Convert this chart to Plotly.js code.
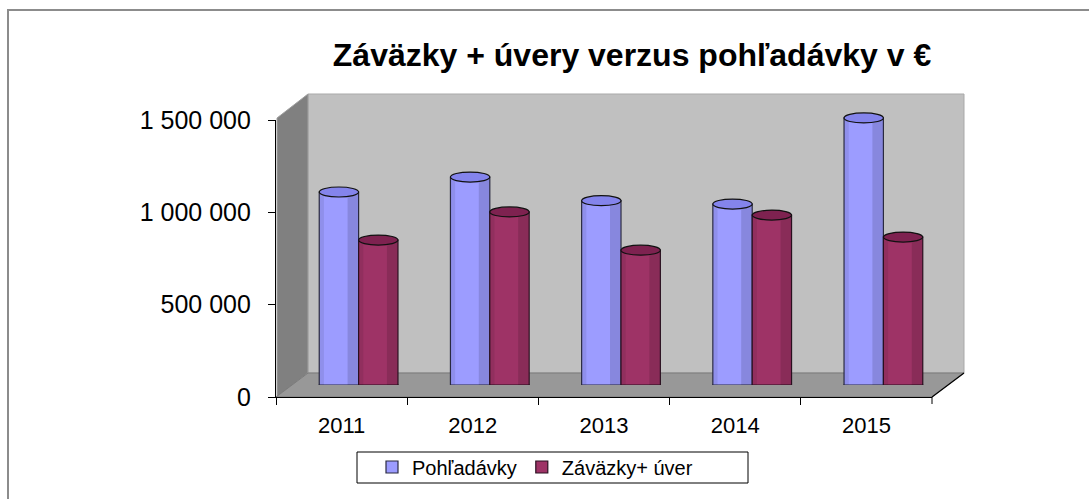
<!DOCTYPE html>
<html>
<head>
<meta charset="utf-8">
<script src="https://cdn.plot.ly/plotly-3.0.1.min.js"></script>
<style>html,body{margin:0;padding:0;background:#fff;}#chart{width:1089px;height:499px;}</style>
</head>
<body>
<div id="chart"></div>
<script>
// ---- data ----
const years = ['2011', '2012', '2013', '2014', '2015'];
const pohladavky = [1045000, 1126000, 998000, 980000, 1446000];
const zavazky = [785000, 937000, 730000, 920000, 801000];
const seriesNames = ['Pohľadávky', 'Záväzky+ úver'];
const yTicks = [0, 500000, 1000000, 1500000];
const titleText = 'Záväzky + úvery verzus pohľadávky v €';

// ---- layout helpers ----
const W = 1089, H = 499;
const px = x => x / W;
const py = y => 1 - y / H;
const FONT = 'Liberation Sans, Arial, sans-serif';
const BLUE = '#9c9cff', RED = '#9e3366';
const BLUE_TOP = '#8484ec', RED_TOP = '#7e2250';
const BAR_W = 0.3;

const traces = [
  {type: 'bar', name: seriesNames[0], x: years, y: pohladavky, xaxis: 'x2', yaxis: 'y2',
   width: BAR_W, offset: -BAR_W, marker: {color: BLUE, line: {color: '#2a2a40', width: 1.2}},
   hoverinfo: 'x+y'},
  {type: 'bar', name: seriesNames[1], x: years, y: zavazky, xaxis: 'x2', yaxis: 'y2',
   width: BAR_W, offset: 0, marker: {color: RED, line: {color: '#2a1020', width: 1.2}},
   hoverinfo: 'x+y'},
  // invisible trace to give front axes a subplot
  {type: 'scatter', x: years, y: [0,0,0,0,0], xaxis: 'x', yaxis: 'y', mode: 'none',
   showlegend: false, hoverinfo: 'skip'}
];

const shapes = [];
// outer chart border
shapes.push({type: 'rect', xref: 'paper', yref: 'paper', x0: px(8), x1: px(1100), y0: py(10), y1: py(510),
  line: {color: '#8c8c8c', width: 2}, layer: 'below'});
// back wall
shapes.push({type: 'rect', xref: 'paper', yref: 'paper', x0: px(308), x1: px(964), y0: py(94), y1: py(373),
  fillcolor: '#c0c0c0', line: {color: '#a9a9a9', width: 1}, layer: 'below'});
// side wall
shapes.push({type: 'path', xref: 'paper', yref: 'paper',
  path: `M ${px(277)} ${py(118)} L ${px(308)} ${py(94)} L ${px(308)} ${py(373)} L ${px(277)} ${py(397)} Z`,
  fillcolor: '#808080', line: {color: '#a0a0a0', width: 1}, layer: 'below'});
// floor
shapes.push({type: 'path', xref: 'paper', yref: 'paper',
  path: `M ${px(276)} ${py(397)} L ${px(308)} ${py(373)} L ${px(964)} ${py(373)} L ${px(932)} ${py(397)} Z`,
  fillcolor: '#989898', line: {color: '#7a7a7a', width: 1}, layer: 'below'});
// depth edge of floor (right)
shapes.push({type: 'line', xref: 'paper', yref: 'paper', x0: px(932), y0: py(397), x1: px(964), y1: py(373),
  line: {color: '#000', width: 1.2}, layer: 'above'});
shapes.push({type: 'line', xref: 'paper', yref: 'paper', x0: px(932), y0: py(397), x1: px(932), y1: py(404),
  line: {color: '#000', width: 1}, layer: 'above'});
// legend frame
shapes.push({type: 'rect', xref: 'paper', yref: 'paper', x0: px(357), x1: px(748), y0: py(452), y1: py(483),
  line: {color: '#000', width: 1}, fillcolor: '#fff', layer: 'below'});

// cylinder bottoms and tops (from data)
const series = [{v: pohladavky, off: -BAR_W, c: BLUE, t: BLUE_TOP}, {v: zavazky, off: 0, c: RED, t: RED_TOP}];
series.forEach(s => {
  s.v.forEach((val, i) => {
    shapes.push({type: 'circle', xref: 'x2', yref: 'y2', ysizemode: 'pixel', yanchor: 0,
      x0: i + s.off, x1: i + s.off + BAR_W, y0: -5, y1: 5,
      fillcolor: s.c, line: {color: '#222', width: 1.2}, layer: 'below'});
    shapes.push({type: 'rect', xref: 'x2', yref: 'y2',
      x0: i + s.off + BAR_W * 0.72, x1: i + s.off + BAR_W - 0.004, y0: 0, y1: val,
      fillcolor: 'rgba(0,0,0,0.13)', line: {width: 0}, layer: 'above'});
    shapes.push({type: 'rect', xref: 'x2', yref: 'y2',
      x0: i + s.off + 0.004, x1: i + s.off + BAR_W * 0.12, y0: 0, y1: val,
      fillcolor: 'rgba(0,0,0,0.08)', line: {width: 0}, layer: 'above'});
    shapes.push({type: 'circle', xref: 'x2', yref: 'y2', ysizemode: 'pixel', yanchor: val,
      x0: i + s.off, x1: i + s.off + BAR_W, y0: -5, y1: 5,
      fillcolor: s.t, line: {color: '#111', width: 1.2}, layer: 'above'});
  });
});

const layout = {
  width: W, height: H,
  margin: {l: 0, r: 0, t: 0, b: 0},
  paper_bgcolor: '#ffffff',
  plot_bgcolor: 'rgba(0,0,0,0)',
  separators: ', ',
  font: {family: FONT, color: '#000'},
  title: {text: '<b>' + titleText + '</b>', font: {family: FONT, size: 32, color: '#000'},
    x: px(632), xref: 'paper', xanchor: 'center', y: py(55), yref: 'paper', yanchor: 'middle'},
  showlegend: true,
  legend: {orientation: 'h', x: px(372), xanchor: 'left', y: py(467), yanchor: 'middle',
    borderwidth: 0, bgcolor: 'rgba(0,0,0,0)', font: {family: FONT, size: 20},
    itemwidth: 30, traceorder: 'normal'},
  bargap: 0.4, barmode: 'group',
  xaxis: {domain: [px(276), px(932)], anchor: 'y', type: 'category', categoryorder: 'array', categoryarray: years,
    showline: true, linecolor: '#000', linewidth: 1.2, ticks: 'outside', ticklen: 7, tickcolor: '#000',
    tickson: 'boundaries', showgrid: false, zeroline: false, fixedrange: true, ticklabelstandoff: 8,
    tickfont: {family: FONT, size: 22}, range: [-0.5, 4.5]},
  yaxis: {domain: [py(397), py(120)], anchor: 'x', range: [0, 1500000], tickvals: yTicks,
    tickformat: ',d', showline: true, linecolor: '#000', linewidth: 1.2, ticks: 'outside', ticklen: 7,
    tickcolor: '#000', showgrid: false, zeroline: false, fixedrange: true, ticklabelstandoff: 12,
    tickfont: {family: FONT, size: 25}},
  xaxis2: {domain: [px(293), px(949)], anchor: 'y2', type: 'category', categoryorder: 'array', categoryarray: years,
    visible: false, range: [-0.5, 4.5], fixedrange: true},
  yaxis2: {domain: [py(385), py(108)], anchor: 'x2', range: [0, 1500000], visible: false, fixedrange: true},
  shapes: shapes
};

Plotly.newPlot('chart', traces, layout, {displayModeBar: false});
</script>
</body>
</html>
